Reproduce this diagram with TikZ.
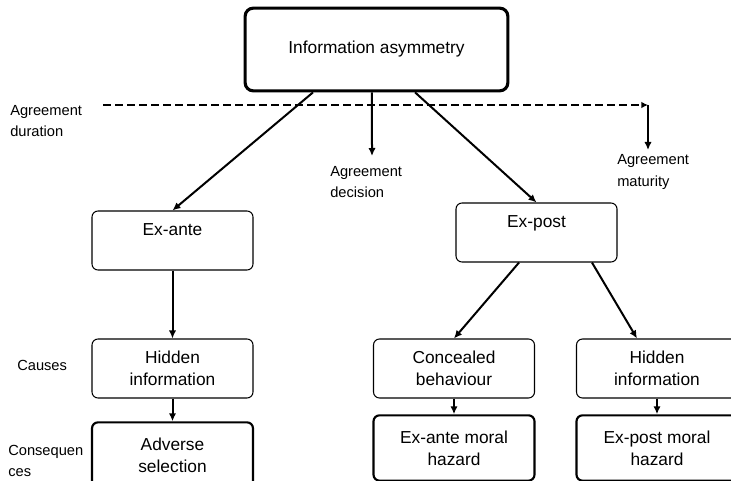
\documentclass[tikz,border=0pt]{standalone}
\usepackage{fontspec}
\setmainfont{Liberation Sans}
\usetikzlibrary{arrows.meta}
\begin{document}
\begin{tikzpicture}[x=0.75pt,y=-0.75pt,
		box/.style={draw,rounded corners=4.5pt,line width=0.8pt,align=center,inner sep=0pt,
			font=\fontsize{13}{16.5}\selectfont,minimum width=120.75pt,minimum height=44.25pt},
		endbox/.style={box,line width=1.6pt,minimum height=49pt},
		lbl/.style={anchor=west,align=left,inner sep=0pt,font=\fontsize{11}{16}\selectfont},
		arr/.style={line width=1.5pt,-{Latex[length=6pt,width=5.5pt]}}]
			\useasboundingbox (0,0) rectangle (731,481);
			\node [box,line width=2.3pt,rounded corners=6pt,minimum width=197pt,minimum height=62pt] (asym) at (376.5,49.5) {Information asymmetry};
			\node [box] (exante) at (172.5,240.5) {Ex-ante\\~};
			\node [box] (expost) at (536.5,232.5) {Ex-post\\~};
			\node [box] (hidleft) at (172.5,368.5) {Hidden\\information};
			\node [box] (concealed) at (454,368.5) {Concealed\\behaviour};
			\node [box] (hidright) at (657,368.5) {Hidden\\information};
			\node [endbox] (adverse) at (172.5,455) {Adverse\\selection};
			\node [endbox] (exantemh) at (454,448) {Ex-ante moral\\hazard};
			\node [endbox] (expostmh) at (657,448) {Ex-post moral\\hazard};
			\node [lbl] (duration) at (10,121) {Agreement\\duration};
			\node [lbl] (decision) at (330,182) {Agreement\\decision};
			\node [lbl] (maturity) at (617,172) {Agreement\\maturity};
			\node [lbl] (causes) at (17,365) {Causes};
			\node [lbl] (conseq) at (8,461) {Consequen\\ces};
			\coordinate (durstart) at (103,105);
			\coordinate (durend) at (648,105);
			\coordinate (matend) at (648,150);
			\coordinate (decend) at (372,156);
			\draw [line width=1.5pt,dash pattern=on 6pt off 3pt,-{Latex[length=5pt,width=5pt]}] (durstart) -- (durend);
			\draw [arr] (durend) -- (matend);
			\draw [arr] ([xshift=-3.4pt]asym.south) -- (decend);
			\draw [arr] ([xshift=-47.6pt]asym.south) -- (exante.north);
			\draw [arr] ([xshift=28.9pt]asym.south) -- (expost.north);
			\draw [arr] (exante) -- (hidleft);
			\draw [arr] (hidleft) -- (adverse);
			\draw [arr] ([xshift=-13.1pt]expost.south) -- (concealed.north);
			\draw [arr] ([xshift=41.6pt]expost.south) -- ([xshift=-15pt]hidright.north);
			\draw [arr] (concealed) -- (exantemh);
			\draw [arr] (hidright) -- (expostmh);
		\end{tikzpicture}
\end{document}
